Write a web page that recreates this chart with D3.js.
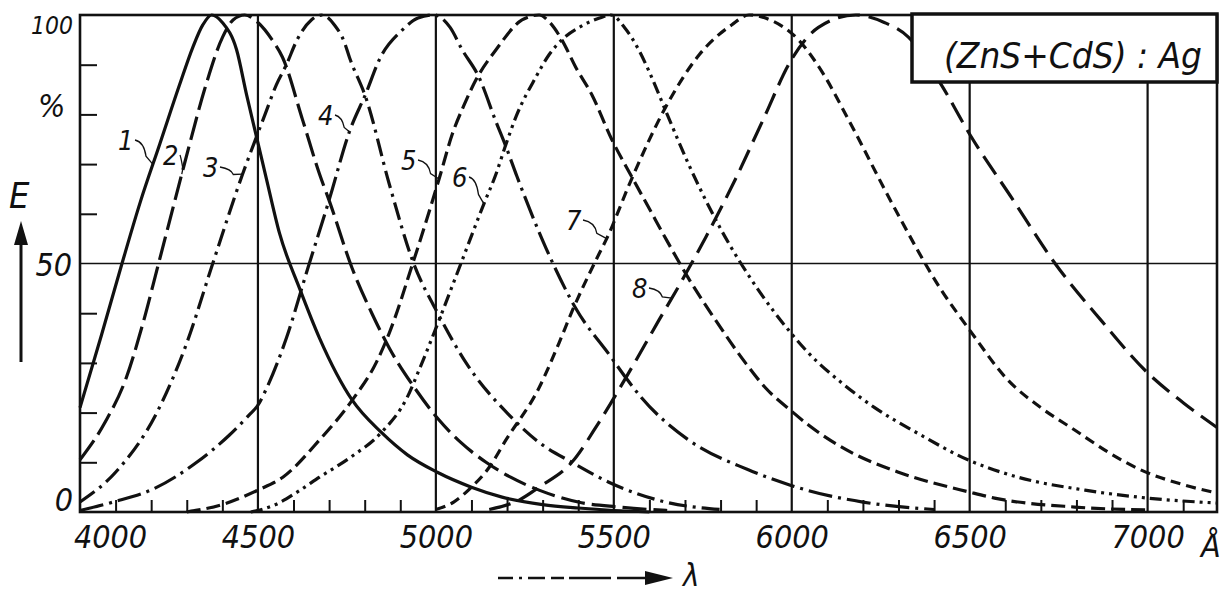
<!DOCTYPE html>
<html>
<head>
<meta charset="utf-8">
<script src="https://cdn.jsdelivr.net/npm/d3@7"></script>
<style>
  html, body { margin: 0; padding: 0; background: #fff; }
  svg text {
    font-family: "DejaVu Sans Condensed", "Liberation Sans Narrow", sans-serif;
    font-style: italic;
    fill: #111;
  }
</style>
</head>
<body>
<svg id="chart" width="1230" height="595"></svg>
<script>
// Relative emission E (%) versus wavelength (Å) for eight (ZnS+CdS):Ag phosphors
const curve1 = [[4000,21],[4060,35.5],[4118,50],[4170,62.5],[4224,74],[4280,86],[4317,93.5],[4345,98],[4370,100],[4400,98.5],[4440,93],[4468,84],[4496,75.5],[4524,67],[4561,56],[4617,45],[4673,35],[4765,22.5],[4847,16],[4920,11.5],[5004,8],[5100,5],[5186,3],[5300,1.5],[5400,0.8],[5500,0.3],[5600,0]];
const curve2 = [[4000,10.5],[4070,18],[4130,27],[4177,38],[4219,49.5],[4286,68],[4308,74],[4350,85],[4401,95.6],[4430,99],[4463,100],[4500,98.5],[4540,95],[4569,91.5],[4625,79],[4673,68],[4701,62.5],[4765,49],[4820,40],[4869,33],[4945,24.5],[5009,18.5],[5070,14],[5141,10],[5210,7],[5290,4.4],[5400,2],[5514,1],[5650,0.3]];
const curve3 = [[4000,2],[4100,8],[4216,20],[4300,34],[4373,50],[4457,68],[4496,75.5],[4520,80],[4552,86],[4580,90],[4610,95],[4650,99],[4681,100],[4715,98],[4743,94.5],[4757,91.5],[4805,83],[4869,66],[4935,50.5],[5009,39.5],[5085,30],[5206,19.5],[5290,14],[5382,10],[5486,6],[5646,2],[5800,0.5]];
const curve4 = [[4000,0.3],[4093,2],[4205,4.6],[4328,10],[4420,15.5],[4475,19.5],[4500,21.5],[4525,25],[4580,35],[4640,49],[4701,63],[4757,76.5],[4805,84.5],[4841,91],[4906,97],[4950,99.4],[4995,100],[5040,97.5],[5074,93],[5121,87.5],[5169,78.5],[5197,73.5],[5228,67.5],[5310,53],[5393,41],[5494,31],[5534,27],[5578,23],[5710,14.5],[5878,8.5],[5996,5.4],[6047,4.3],[6200,2],[6400,0.5]];
const curve5 = [[4300,0],[4400,1.5],[4500,4.4],[4570,7],[4673,14.5],[4765,22.5],[4832,30],[4869,36],[4935,50],[5009,67],[5046,76],[5080,82],[5113,87],[5169,93],[5242,99],[5290,100],[5320,98.5],[5354,95],[5393,89.5],[5438,84],[5494,75],[5550,67.5],[5600,61],[5650,54.5],[5710,47],[5786,38.6],[5870,30],[5926,25],[5996,20.5],[6047,17.5],[6167,12],[6300,8],[6500,4],[6570,2.8],[6795,1],[7000,0.4]];
const curve6 = [[4480,0],[4550,1.5],[4610,4],[4673,7],[4760,11],[4847,16],[4919,23],[4953,28.6],[5009,38.6],[5065,49],[5135,62],[5169,68],[5197,74],[5225,79.5],[5281,87.5],[5318,92],[5354,95],[5410,97.8],[5460,99.4],[5492,100],[5530,97.5],[5570,93],[5600,88.5],[5650,80],[5710,70],[5800,57],[5906,44.7],[5991,36.6],[6047,32],[6140,26],[6233,21],[6355,15.8],[6495,10.5],[6636,7],[6824,4.4],[7000,2.8],[7195,1.8]];
const curve7 = [[5000,0.5],[5050,2],[5100,5],[5150,9],[5197,14.5],[5290,25],[5346,34],[5384,40.6],[5450,50.7],[5480,55],[5550,67],[5646,81.5],[5740,92],[5831,98],[5880,100],[5940,99],[6019,95],[6090,88],[6159,79],[6290,61],[6420,44.7],[6500,36.6],[6608,26.5],[6700,21],[6795,16.5],[6890,12],[6980,8.5],[7100,5.5],[7195,3.8]];
const curve8 = [[5150,0.5],[5234,2.4],[5290,5],[5382,10],[5458,18],[5550,29],[5626,38.5],[5691,46.5],[5760,55.5],[5842,67],[5920,79],[5999,91],[6075,97.5],[6180,100],[6260,98.5],[6327,95.6],[6420,86],[6500,76],[6620,63],[6740,50],[6870,38.5],[7000,28],[7100,22],[7195,17]];

const curveIds = ["1","2","3","4","5","6","7","8"];
const curveDashes = ["", "24,7", "18,6,3,6", "24,6,3,6", "14,6", "12,5,3,5,3,5", "10,6", "22,9"];

const xLabelValues = [4000, 4500, 5000, 5500, 6000, 6500, 7000];
const xGridValues = [4500, 5000, 5500, 6000, 6500, 7000];
const xMinorValues = d3.range(4100, 7195, 100).filter(v => v % 500 !== 0);
const yMinorValues = [10, 20, 30, 40, 60, 70, 80, 90];
const yLabelValues = ["0", "50", "100"];

// label anchor wavelength on each curve, with text position
const curveLabelAt = [4205, 4286, 4457, 4757, 5009, 5135, 5480, 5663];
const curveLabelPos = [[118,150],[163,165],[203,177],[318,125],[401,170],[452,187],[566,230],[632,298]];

const svg = d3.select("#chart");
const x = d3.scaleLinear().domain([4000, 7195]).range([80, 1217]);
const y = d3.scaleLinear().domain([0, 100]).range([512, 15]);

// grid
svg.append("g").selectAll("line").data(xGridValues).join("line")
  .attr("x1", d => x(d)).attr("x2", d => x(d))
  .attr("y1", y(0)).attr("y2", y(100))
  .attr("stroke", "#111").attr("stroke-width", 2.2);
svg.append("line")
  .attr("x1", x(4000)).attr("x2", x(7195))
  .attr("y1", y(50)).attr("y2", y(50))
  .attr("stroke", "#111").attr("stroke-width", 1.6);

// minor ticks along the wavelength axis (pointing up into the plot)
svg.append("g").attr("transform", `translate(0,${y(0)})`)
  .call(d3.axisBottom(x).tickValues(xMinorValues).tickSize(-12).tickFormat(""))
  .call(g => g.select(".domain").remove())
  .call(g => g.selectAll("line").attr("stroke", "#111").attr("stroke-width", 2));

// minor ticks on the E axis
svg.append("g").attr("transform", `translate(${x(4000)},0)`)
  .call(d3.axisLeft(y).tickValues(yMinorValues).tickSize(-17).tickFormat(""))
  .call(g => g.select(".domain").remove())
  .call(g => g.selectAll("line").attr("stroke", "#111").attr("stroke-width", 2));

// wavelength labels
const xAxis = svg.append("g").attr("transform", `translate(0,${y(0)})`)
  .call(d3.axisBottom(x).tickValues(xLabelValues).tickSize(0).tickFormat(d3.format("d")));
xAxis.select(".domain").remove();
xAxis.selectAll("text")
  .attr("y", 36).attr("dy", 0)
  .attr("dx", d => d === 4000 ? 30 : 0)
  .attr("font-size", 32)
  .style("font-family", "'DejaVu Sans Condensed', sans-serif")
  .style("font-style", "italic")
  .attr("fill", "#111");

// curves
const line = d3.line().x(d => x(d[0])).y(d => y(d[1])).curve(d3.curveMonotoneX);
const curves = [curve1, curve2, curve3, curve4, curve5, curve6, curve7, curve8];
svg.append("g").selectAll("path").data(curves).join("path")
  .attr("d", line)
  .attr("fill", "none")
  .attr("stroke", "#111")
  .attr("stroke-width", 3.2)
  .attr("stroke-dasharray", (d, i) => curveDashes[i] || null);

// frame
svg.append("rect")
  .attr("x", x(4000)).attr("y", y(100))
  .attr("width", x(7195) - x(4000)).attr("height", y(0) - y(100))
  .attr("fill", "none").attr("stroke", "#111").attr("stroke-width", 2.6);

// curve numbers with leader lines
const interp = (c, w) => {
  for (let k = 1; k < c.length; k++) {
    if (w <= c[k][0]) {
      const t = (w - c[k-1][0]) / (c[k][0] - c[k-1][0]);
      return c[k-1][1] + t * (c[k][1] - c[k-1][1]);
    }
  }
  return c[c.length - 1][1];
};
curveIds.forEach((id, i) => {
  const [tx, ty] = curveLabelPos[i];
  const ax = x(curveLabelAt[i]);
  const ay = y(interp(curves[i], curveLabelAt[i]));
  svg.append("text").attr("x", tx).attr("y", ty)
    .attr("font-size", 27).text(id);
  const sx = tx + 17, sy = ty - 10;
  svg.append("path")
    .attr("d", `M${sx},${sy} Q${(sx + ax) / 2},${sy + 2} ${(sx + ax) / 2 + 2},${(sy + ay) / 2 + 4} L${ax},${ay}`)
    .attr("fill", "none").attr("stroke", "#111").attr("stroke-width", 1.3);
});

// E axis labels
svg.append("text").attr("x", 31).attr("y", 34).attr("font-size", 25)
  .attr("textLength", 42).attr("lengthAdjust", "spacingAndGlyphs").text(yLabelValues[2]);
svg.append("text").attr("x", 72).attr("y", y(50) + 12).attr("font-size", 32)
  .attr("text-anchor", "end").text(yLabelValues[1]);
svg.append("text").attr("x", 73).attr("y", y(0) - 1).attr("font-size", 32)
  .attr("text-anchor", "end").text(yLabelValues[0]);
svg.append("text").attr("x", 38).attr("y", 117).attr("font-size", 32).text("%");
svg.append("text").attr("x", 9).attr("y", 208).attr("font-size", 36).text("E");

// upward arrow under E
svg.append("line").attr("x1", 21).attr("x2", 21).attr("y1", 362).attr("y2", 238)
  .attr("stroke", "#111").attr("stroke-width", 3);
svg.append("path").attr("d", "M21,221 L28,245 L14,245 Z").attr("fill", "#111");

// wavelength arrow and symbol
svg.append("line").attr("x1", 498).attr("x2", 650).attr("y1", 578).attr("y2", 578)
  .attr("stroke", "#111").attr("stroke-width", 2.6)
  .attr("stroke-dasharray", "15,6,3,6,17,6,13,5,42,6,40");
svg.append("path").attr("d", "M673,578 L645,571 L645,585 Z").attr("fill", "#111");
svg.append("text").attr("x", 683).attr("y", 586).attr("font-size", 31).text("λ");
svg.append("text").attr("x", 1201).attr("y", 557).attr("font-size", 32).text("Å");

// phosphor designation box
svg.append("rect").attr("x", 912).attr("y", 14).attr("width", 1217 - 912).attr("height", 68)
  .attr("fill", "#fff").attr("stroke", "#111").attr("stroke-width", 3.5);
svg.append("text").attr("x", 944).attr("y", 68).attr("font-size", 36)
  .attr("textLength", 258).attr("lengthAdjust", "spacingAndGlyphs")
  .text("(ZnS+CdS) : Ag");
</script>
</body>
</html>
